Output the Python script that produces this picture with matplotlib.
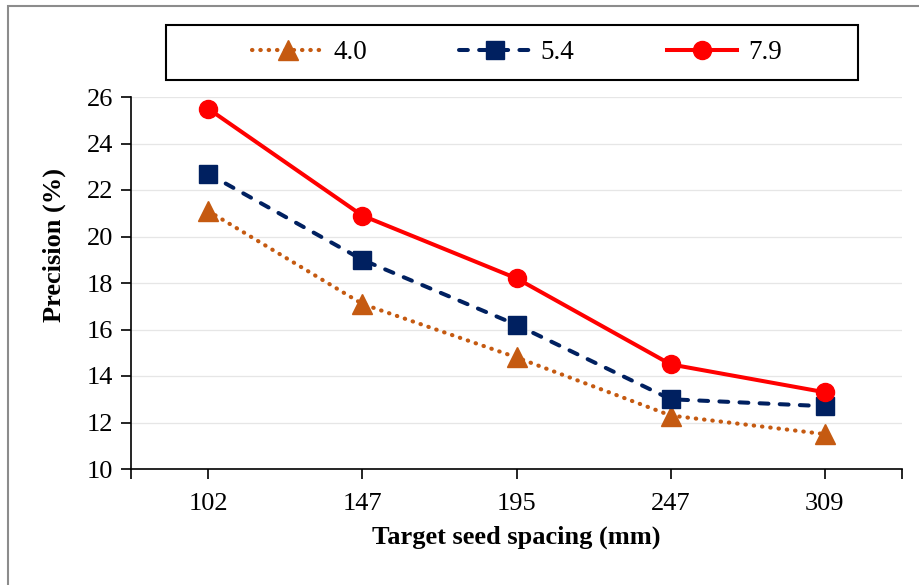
import numpy as np
import matplotlib
matplotlib.use('Agg')
import matplotlib.pyplot as plt
from matplotlib.patches import Rectangle

plt.rcParams['font.family'] = ['Liberation Serif', 'DejaVu Serif']

spacing = ['102', '147', '195', '247', '309']
prec_40 = [21.1, 17.1, 14.8, 12.3, 11.5]
prec_54 = [22.7, 19.0, 16.2, 13.0, 12.7]
prec_79 = [25.5, 20.9, 18.2, 14.5, 13.3]

W, H = 919, 585
fig = plt.figure(figsize=(W/100, H/100), dpi=100)
ax = fig.add_axes([131/W, 1-469/H, (902-131)/W, (469-97)/H])

x = np.arange(len(spacing))
ax.plot(x, prec_40, linestyle=(0, (0.1, 1.9)), color='#C55A11', lw=3,
        marker='^', ms=14, label='4.0', dash_capstyle='round')
ax.plot(x, prec_54, linestyle=(0, (2.2, 2.8)), color='#002060', lw=2.9,
        marker='s', ms=13, label='5.4', dash_capstyle='round')
ax.plot(x, prec_79, linestyle='-', color='#FF0000', lw=2.9,
        marker='o', ms=13, label='7.9')

ax.set_xlim(-0.5, len(spacing)-0.5)
ax.set_ylim(10, 26)
ax.set_yticks(np.arange(10, 27, 2))
ax.set_xticks(x)
ax.set_xticks([-0.5, len(spacing)-0.5], minor=True)
ax.set_xticklabels(spacing)
ax.tick_params(axis='both', labelsize=19, color='black', length=7, width=1.2)
ax.tick_params(axis='x', which='minor', length=7, width=1.2)
ax.tick_params(axis='x', pad=10)
ax.tick_params(axis='y', pad=6)
ax.grid(axis='y', color='#E6E6E6', lw=0.9)
ax.set_axisbelow(True)
for s in ['top', 'right']:
    ax.spines[s].set_visible(False)
for s in ['left', 'bottom']:
    ax.spines[s].set_linewidth(1.2)

ax.set_xlabel('Target seed spacing (mm)', fontsize=19, fontweight='bold', labelpad=8)
ax.set_ylabel('Precision (%)', fontsize=19, fontweight='bold')
ax.yaxis.set_label_coords(-0.084, 0.602)

# legend without its own frame; the box is drawn separately
leg = fig.legend(loc='center', bbox_to_anchor=(517/W, 1-52.5/H), ncol=3,
                 fontsize=19.5, frameon=False, handlelength=2.6,
                 columnspacing=3.4, handletextpad=0.4)
fig.add_artist(Rectangle((166/W, 1-80/H), (858-166)/W, 55/H,
                         transform=fig.transFigure, fill=False,
                         edgecolor='black', lw=1.5))

# outer chart border (only top and left visible in original crop)
fig.add_artist(Rectangle((8/W, -0.05), 1.1, 1 - 6/H + 0.05,
                         transform=fig.transFigure, fill=False,
                         edgecolor='#8C8C8C', lw=1.5))

fig.savefig('out.png', dpi=100)
